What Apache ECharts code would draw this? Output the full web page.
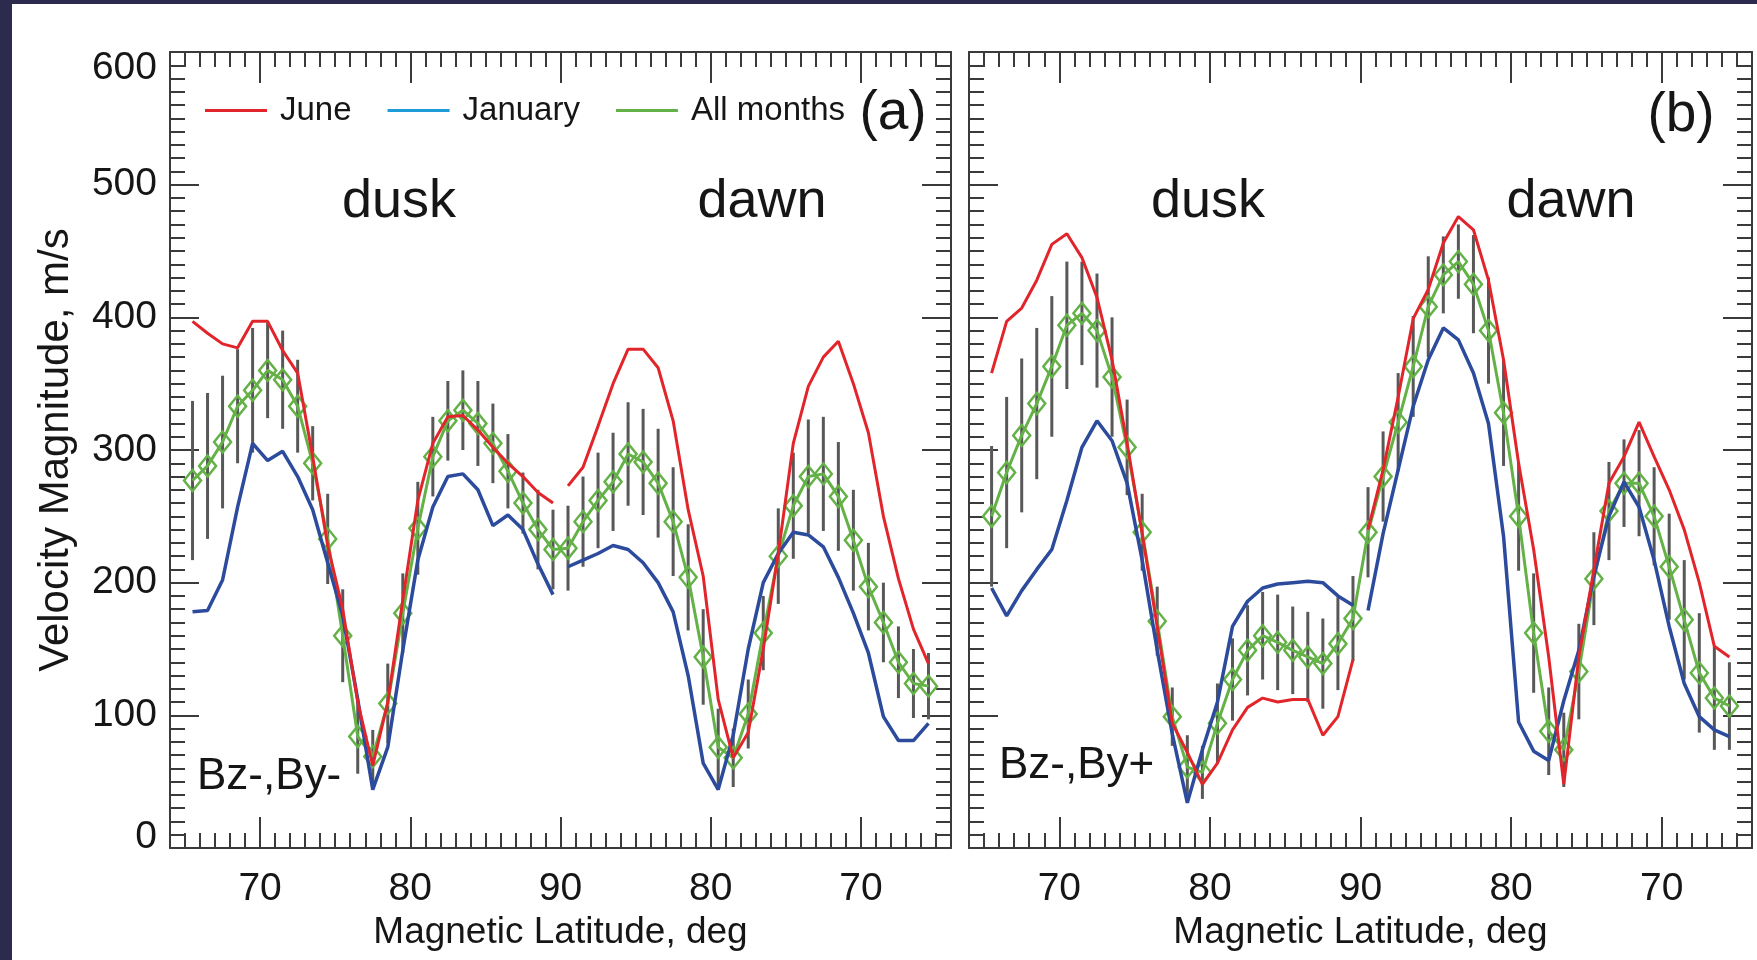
<!DOCTYPE html>
<html>
<head>
<meta charset="utf-8">
<title>Velocity magnitude along the pass</title>
<script src="https://cdn.jsdelivr.net/npm/echarts@6/dist/echarts.min.js"></script>
<style>
html, body { margin: 0; padding: 0; background: #2c2b4d; }
#chart { width: 1757px; height: 960px; }
</style>
</head>
<body>
<div id="chart"></div>
<script>
// Bin-centre latitudes: dusk half runs poleward, dawn half runs back equatorward
const LAT_DUSK = [65.5, 66.5, 67.5, 68.5, 69.5, 70.5, 71.5, 72.5, 73.5, 74.5, 75.5, 76.5, 77.5,
                  78.5, 79.5, 80.5, 81.5, 82.5, 83.5, 84.5, 85.5, 86.5, 87.5, 88.5, 89.5];
const LAT_DAWN = [89.5, 88.5, 87.5, 86.5, 85.5, 84.5, 83.5, 82.5, 81.5, 80.5, 79.5, 78.5, 77.5,
                  76.5, 75.5, 74.5, 73.5, 72.5, 71.5, 70.5, 69.5, 68.5, 67.5, 66.5, 65.5];

// Major tick positions on the along-track scale (labelled 70, 80, 90, 80, 70)
const X_MAJOR = [-20, -10, 0, 10, 20];
const Y_MAX = 600;
const Y_STEP = 100;

// Panel (a): Bz-, By-
const JUNE_A_DUSK = [397, 388, 380, 377, 397, 397, 375, 358, 295, 228, 180, 110, 62, 110, 187, 262, 305, 325, 326, 315, 302, 290, 280, 268, 260];
const JUNE_A_DAWN = [273, 287, 318, 350, 376, 376, 362, 322, 255, 205, 112, 68, 87, 150, 222, 305, 348, 370, 382, 350, 313, 250, 203, 165, 139];
const JAN_A_DUSK  = [178, 179, 202, 257, 305, 292, 299, 280, 255, 215, 175, 112, 44, 76, 149, 217, 257, 280, 282, 270, 243, 251, 240, 214, 191];
const JAN_A_DAWN  = [212, 217, 222, 228, 225, 215, 200, 178, 130, 64, 44, 85, 150, 200, 222, 238, 236, 227, 204, 177, 147, 99, 81, 81, 94];
const ALL_A_DUSK  = [277, 288, 306, 333, 345, 360, 353, 333, 290, 233, 160, 84, 69, 109, 177, 241, 295, 322, 330, 320, 305, 284, 260, 240, 225];
const ALL_A_DAWN  = [226, 246, 262, 276, 297, 291, 275, 246, 204, 144, 76, 68, 101, 162, 220, 258, 280, 282, 265, 232, 197, 170, 140, 124, 122];
const ERR_A_DUSK  = [60, 55, 50, 43, 47, 36, 37, 35, 28, 34, 35, 28, 20, 30, 30, 35, 30, 30, 30, 32, 30, 28, 23, 30, 30];
const ERR_A_DAWN  = [32, 34, 36, 37, 39, 40, 41, 41, 40, 36, 29, 22, 26, 28, 36, 40, 43, 43, 41, 38, 33, 30, 27, 26, 25];

// Panel (b): Bz-, By+
const JUNE_B_DUSK = [358, 397, 407, 428, 455, 463, 445, 415, 368, 305, 237, 167, 94, 72, 48, 64, 89, 106, 113, 110, 112, 112, 85, 99, 142];
const JUNE_B_DAWN = [240, 285, 340, 399, 421, 456, 476, 466, 428, 368, 290, 225, 144, 48, 144, 210, 275, 295, 321, 295, 270, 240, 200, 152, 144];
const JAN_B_DUSK  = [196, 175, 194, 210, 225, 262, 302, 322, 307, 275, 217, 149, 86, 34, 74, 110, 167, 186, 196, 199, 200, 201, 200, 190, 183];
const JAN_B_DAWN  = [179, 237, 285, 333, 368, 392, 383, 358, 320, 235, 95, 73, 66, 111, 149, 205, 250, 276, 257, 217, 167, 124, 99, 89, 84];
const ALL_B_DUSK  = [250, 283, 311, 335, 363, 394, 403, 390, 355, 302, 238, 171, 99, 61, 57, 94, 127, 149, 160, 155, 149, 144, 139, 154, 173];
const ALL_B_DAWN  = [238, 280, 321, 363, 408, 432, 442, 425, 390, 328, 250, 162, 88, 74, 133, 203, 254, 275, 275, 250, 212, 172, 132, 113, 107];
const ERR_B_DUSK  = [53, 57, 58, 57, 53, 48, 39, 43, 45, 36, 29, 26, 22, 24, 20, 30, 31, 34, 33, 36, 33, 34, 34, 35, 32];
const ERR_B_DAWN  = [34, 34, 37, 38, 38, 29, 28, 37, 40, 40, 41, 45, 33, 28, 36, 35, 37, 33, 40, 37, 40, 45, 45, 39, 33];

const RED = '#e2252b';
const BLUE = '#2c4b9d';
const LEGEND_BLUE = '#1f9bd7';
const GREEN = '#64b247';
const BAR = '#585858';
const FRAME = '#3a3a3a';
const INK = '#161616';
const SANS = '"Liberation Sans", Arial, Helvetica, sans-serif';
const TICK_FONT = 39;

// Along-track coordinate: dusk side negative, pole at 0, dawn side positive
const duskPos = lat => lat - 90;
const dawnPos = lat => 90 - lat;

function track(dusk, dawn, broken) {
  const a = LAT_DUSK.map((lat, i) => [duskPos(lat), dusk[i]]);
  const b = LAT_DAWN.map((lat, i) => [dawnPos(lat), dawn[i]]);
  return broken ? a.concat([[0, null]], b) : a.concat(b);
}

function bars(dusk, dawn, errDusk, errDawn) {
  const a = LAT_DUSK.map((lat, i) => [duskPos(lat), dusk[i], errDusk[i]]);
  const b = LAT_DAWN.map((lat, i) => [dawnPos(lat), dawn[i], errDawn[i]]);
  return a.concat(b);
}

const frameLine = { show: true, onZero: false, lineStyle: { color: FRAME, width: 2 } };
const tickLine = { color: FRAME, width: 2 };

function xAxesFor(g) {
  const common = { gridIndex: g, type: 'value', min: -26, max: 26, splitLine: { show: false } };
  return [
    { ...common, position: 'bottom', interval: 1, axisLine: frameLine,
      axisTick: { inside: true, length: 15, lineStyle: tickLine }, axisLabel: { show: false } },
    { ...common, position: 'bottom', axisLine: { show: false, onZero: false },
      axisTick: { inside: true, length: 31, customValues: X_MAJOR, lineStyle: tickLine },
      axisLabel: { customValues: X_MAJOR, formatter: v => String(90 - Math.abs(v)),
                   fontFamily: SANS, fontSize: TICK_FONT, color: INK, margin: 22 },
      name: 'Magnetic Latitude, deg', nameLocation: 'middle', nameGap: 62,
      nameTextStyle: { fontFamily: SANS, fontSize: 37, color: INK } },
    { ...common, position: 'top', interval: 1, axisLine: frameLine,
      axisTick: { inside: true, length: 15, lineStyle: tickLine }, axisLabel: { show: false } },
    { ...common, position: 'top', axisLine: { show: false, onZero: false },
      axisTick: { inside: true, length: 31, customValues: X_MAJOR, lineStyle: tickLine },
      axisLabel: { show: false } }
  ];
}

function yAxesFor(g, withLabels) {
  const common = {
    gridIndex: g, type: 'value', min: 0, max: Y_MAX, interval: Y_STEP,
    splitLine: { show: false }, minorSplitLine: { show: false }, axisLine: frameLine,
    axisTick: { inside: true, length: 29, lineStyle: tickLine },
    minorTick: { show: true, splitNumber: 10, length: 15, lineStyle: tickLine }
  };
  const left = { ...common, position: 'left' };
  if (withLabels) {
    left.axisLabel = {
      fontFamily: SANS, fontSize: TICK_FONT, color: INK, margin: 13,
      verticalAlignMaxLabel: 'top', verticalAlignMinLabel: 'bottom',
      // the end labels sit just inside the frame
      formatter: v => v === Y_MAX ? '{hi|' + v + '}' : v === 0 ? '{lo|' + v + '}' : String(v),
      rich: {
        hi: { fontFamily: SANS, fontSize: TICK_FONT, color: INK, lineHeight: 32 },
        lo: { fontFamily: SANS, fontSize: TICK_FONT, color: INK, lineHeight: 22 }
      }
    };
    left.name = 'Velocity Magnitude, m/s';
    left.nameLocation = 'middle';
    left.nameGap = 93;
    left.nameTextStyle = { fontFamily: SANS, fontSize: 42, color: INK };
  } else {
    left.axisLabel = { show: false };
  }
  return [left, { ...common, position: 'right', axisLabel: { show: false } }];
}

function errorBarRender(params, api) {
  const s = api.value(0), v = api.value(1), e = api.value(2);
  const lo = api.coord([s, v - e]);
  const hi = api.coord([s, v + e]);
  return { type: 'line', shape: { x1: lo[0], y1: lo[1], x2: hi[0], y2: hi[1] },
           style: { stroke: BAR, lineWidth: 3 } };
}

function panelSeries(xi, yi, d) {
  return [
    { type: 'custom', name: 'spread', xAxisIndex: xi, yAxisIndex: yi, z: 2,
      renderItem: errorBarRender, encode: { x: 0, y: 1 },
      data: bars(d.allDusk, d.allDawn, d.errDusk, d.errDawn) },
    { type: 'line', name: 'All months', xAxisIndex: xi, yAxisIndex: yi, z: 3,
      data: track(d.allDusk, d.allDawn, false),
      symbol: 'diamond', symbolSize: [17, 21], showSymbol: true,
      itemStyle: { color: 'rgba(255,255,255,0)', borderColor: GREEN, borderWidth: 2.5 },
      lineStyle: { color: GREEN, width: 3 } },
    { type: 'line', name: 'January', xAxisIndex: xi, yAxisIndex: yi, z: 4,
      data: track(d.janDusk, d.janDawn, true), connectNulls: false, showSymbol: false,
      itemStyle: { color: BLUE }, lineStyle: { color: BLUE, width: 3.5 } },
    { type: 'line', name: 'June', xAxisIndex: xi, yAxisIndex: yi, z: 5,
      data: track(d.juneDusk, d.juneDawn, true), connectNulls: false, showSymbol: false,
      itemStyle: { color: RED }, lineStyle: { color: RED, width: 3 } }
  ];
}

const chart = echarts.init(document.getElementById('chart'), null, { renderer: 'canvas' });

const textEl = (x, y, text, size, align) => ({
  type: 'text', x, y, silent: true, z: 50,
  style: { text, font: size + 'px ' + SANS, fill: INK,
           textAlign: align || 'center', textVerticalAlign: 'middle',
           align: align || 'center', verticalAlign: 'middle' }
});

chart.setOption({
  animation: false,
  backgroundColor: '#2c2b4d',
  grid: [
    { left: 170, top: 52, width: 781, height: 796, outerBoundsMode: 'none' },
    { left: 969, top: 52, width: 783, height: 796, outerBoundsMode: 'none' }
  ],
  xAxis: xAxesFor(0).concat(xAxesFor(1)),
  yAxis: yAxesFor(0, true).concat(yAxesFor(1, false)),
  legend: {
    left: 205, top: 94, padding: 0, icon: 'rect', itemWidth: 62, itemHeight: 3, itemGap: 36,
    selectedMode: false,
    textStyle: { fontFamily: SANS, fontSize: 33, color: INK, padding: [0, 0, 0, 8] },
    data: [
      { name: 'June', itemStyle: { color: RED } },
      { name: 'January', itemStyle: { color: LEGEND_BLUE } },
      { name: 'All months', itemStyle: { color: GREEN, borderWidth: 0 } }
    ]
  },
  graphic: [
    { type: 'rect', silent: true, z: -100, shape: { x: 12, y: 4, width: 1745, height: 956 },
      style: { fill: '#ffffff' } },
    textEl(399, 202, 'dusk', 54),
    textEl(762, 202, 'dawn', 54),
    textEl(1208, 202, 'dusk', 54),
    textEl(1571, 202, 'dawn', 54),
    textEl(893, 114, '(a)', 55),
    textEl(1681, 116, '(b)', 55),
    textEl(197, 777, 'Bz-,By-', 44, 'left'),
    textEl(999, 766, 'Bz-,By+', 44, 'left')
  ],
  series: panelSeries(0, 0, {
    juneDusk: JUNE_A_DUSK, juneDawn: JUNE_A_DAWN, janDusk: JAN_A_DUSK, janDawn: JAN_A_DAWN,
    allDusk: ALL_A_DUSK, allDawn: ALL_A_DAWN, errDusk: ERR_A_DUSK, errDawn: ERR_A_DAWN
  }).concat(panelSeries(4, 2, {
    juneDusk: JUNE_B_DUSK, juneDawn: JUNE_B_DAWN, janDusk: JAN_B_DUSK, janDawn: JAN_B_DAWN,
    allDusk: ALL_B_DUSK, allDawn: ALL_B_DAWN, errDusk: ERR_B_DUSK, errDawn: ERR_B_DAWN
  }))
});
</script>
</body>
</html>
